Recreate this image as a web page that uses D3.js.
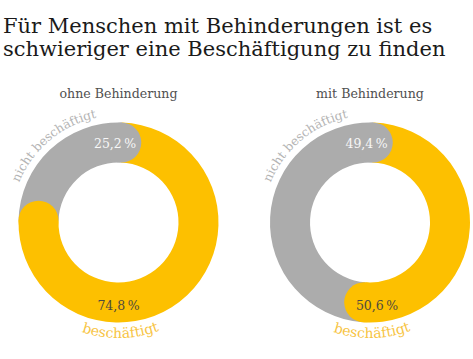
<!DOCTYPE html>
<html><head><meta charset="utf-8">
<script src="https://cdn.jsdelivr.net/npm/d3@7"></script>
<style>html,body{margin:0;padding:0;background:#fff;} svg{display:block;}</style>
</head><body>
<svg id="chart" width="473" height="359"></svg>
<script>
const titleLines = ["Für Menschen mit Behinderungen ist es", "schwieriger eine Beschäftigung zu finden"];
const groups = ["ohne Behinderung", "mit Behinderung"];
const categories = ["nicht beschäftigt", "beschäftigt"];
const nichtBeschaeftigt = [25.2, 49.4];
const beschaeftigt = [74.8, 50.6];

const W = 473, H = 359;
const font = "'DejaVu Serif', Georgia, serif";
const colors = {"nicht beschäftigt": "#acacac", "beschäftigt": "#fdc000"};
const labelColors = {"nicht beschäftigt": "#b4b4b4", "beschäftigt": "#f7c443"};
const valueColors = {"nicht beschäftigt": "#f7f7f7", "beschäftigt": "#4f4a3d"};

const svg = d3.select("#chart");
svg.append("rect").attr("width", W).attr("height", H).attr("fill", "#fff");

svg.append("g").selectAll("text").data(titleLines).join("text")
  .attr("x", 3).attr("y", (d, i) => 33 + i * 23)
  .attr("font-family", font).attr("font-size", 21).attr("fill", "#1a1a1a")
  .text(d => d);

const x = d3.scalePoint().domain(groups).range([118.5, 370]);
const cy = 222.5, rOuter = 100, rInner = 60;
const rMid = (rOuter + rInner) / 2, capR = (rOuter - rInner) / 2;
const angle = d3.scaleLinear().domain([0, 100]).range([0, 2 * Math.PI]);
const deg = Math.PI / 180;
const rot = 2 * deg;
const fmt = v => d3.format(".1f")(v).replace(".", ",") + "\u2009%";
const arc = d3.arc().innerRadius(rInner).outerRadius(rOuter);
const pt = (r, a) => [r * Math.sin(a), -r * Math.cos(a)];
const defs = svg.append("defs");

groups.forEach((g, i) => {
  const cx = x(g);
  const gg = svg.append("g").attr("transform", `translate(${cx},${cy})`);
  const vals = [nichtBeschaeftigt[i], beschaeftigt[i]];
  const segs = [
    {cat: categories[0], v: vals[0], start: rot - angle(vals[0]), end: rot},
    {cat: categories[1], v: vals[1], start: rot, end: rot + angle(vals[1])}
  ];
  gg.selectAll("path.seg").data(segs).join("path").attr("class", "seg")
    .attr("d", d => arc({startAngle: d.start, endAngle: d.end}))
    .attr("fill", d => colors[d.cat]);
  gg.selectAll("circle.cap").data(segs).join("circle").attr("class", "cap")
    .attr("cx", d => pt(rMid, d.end)[0]).attr("cy", d => pt(rMid, d.end)[1])
    .attr("r", capR).attr("fill", d => colors[d.cat]);

  // subtitle
  svg.append("text").attr("x", cx).attr("y", 98).attr("text-anchor", "middle")
    .attr("font-family", font).attr("font-size", 12.6).attr("fill", "#505050").text(g);

  // value labels
  const labelPos = [
    {d: segs[0], a: segs[0].end - 4.5 * deg, r: rMid - 1},
    {d: segs[1], a: Math.min(Math.PI, segs[1].end - 9 * deg), r: rMid + 3}
  ];
  gg.selectAll("text.val").data(labelPos).join("text").attr("class", "val")
    .attr("x", p => pt(p.r, p.a)[0]).attr("y", p => pt(p.r, p.a)[1])
    .attr("dy", "0.35em").attr("text-anchor", "middle")
    .attr("font-family", font).attr("font-size", 12.5)
    .attr("fill", p => valueColors[p.d.cat]).text(p => fmt(p.d.v));

  // curved category labels (paths in the group's local coordinates)
  const rTop = 107, rBot = 115.5;
  const t0 = pt(rTop, -125 * deg), t1 = pt(rTop, 45 * deg);
  defs.append("path").attr("id", "top" + i)
    .attr("d", `M${t0[0]},${t0[1]} A${rTop},${rTop} 0 0 1 ${t1[0]},${t1[1]}`);
  const b0 = pt(rBot, 264 * deg), b1 = pt(rBot, 94 * deg);
  defs.append("path").attr("id", "bot" + i)
    .attr("d", `M${b0[0]},${b0[1]} A${rBot},${rBot} 0 0 0 ${b1[0]},${b1[1]}`);

  gg.append("text").attr("font-family", font).attr("font-size", 12.3)
    .attr("fill", labelColors[categories[0]])
    .append("textPath").attr("href", "#top" + i).attr("startOffset", "50%")
    .attr("text-anchor", "middle").text(categories[0]);
  gg.append("text").attr("font-family", font).attr("font-size", 14)
    .attr("fill", labelColors[categories[1]])
    .append("textPath").attr("href", "#bot" + i).attr("startOffset", "50%")
    .attr("text-anchor", "middle").text(categories[1]);
});
</script>
</body></html>
